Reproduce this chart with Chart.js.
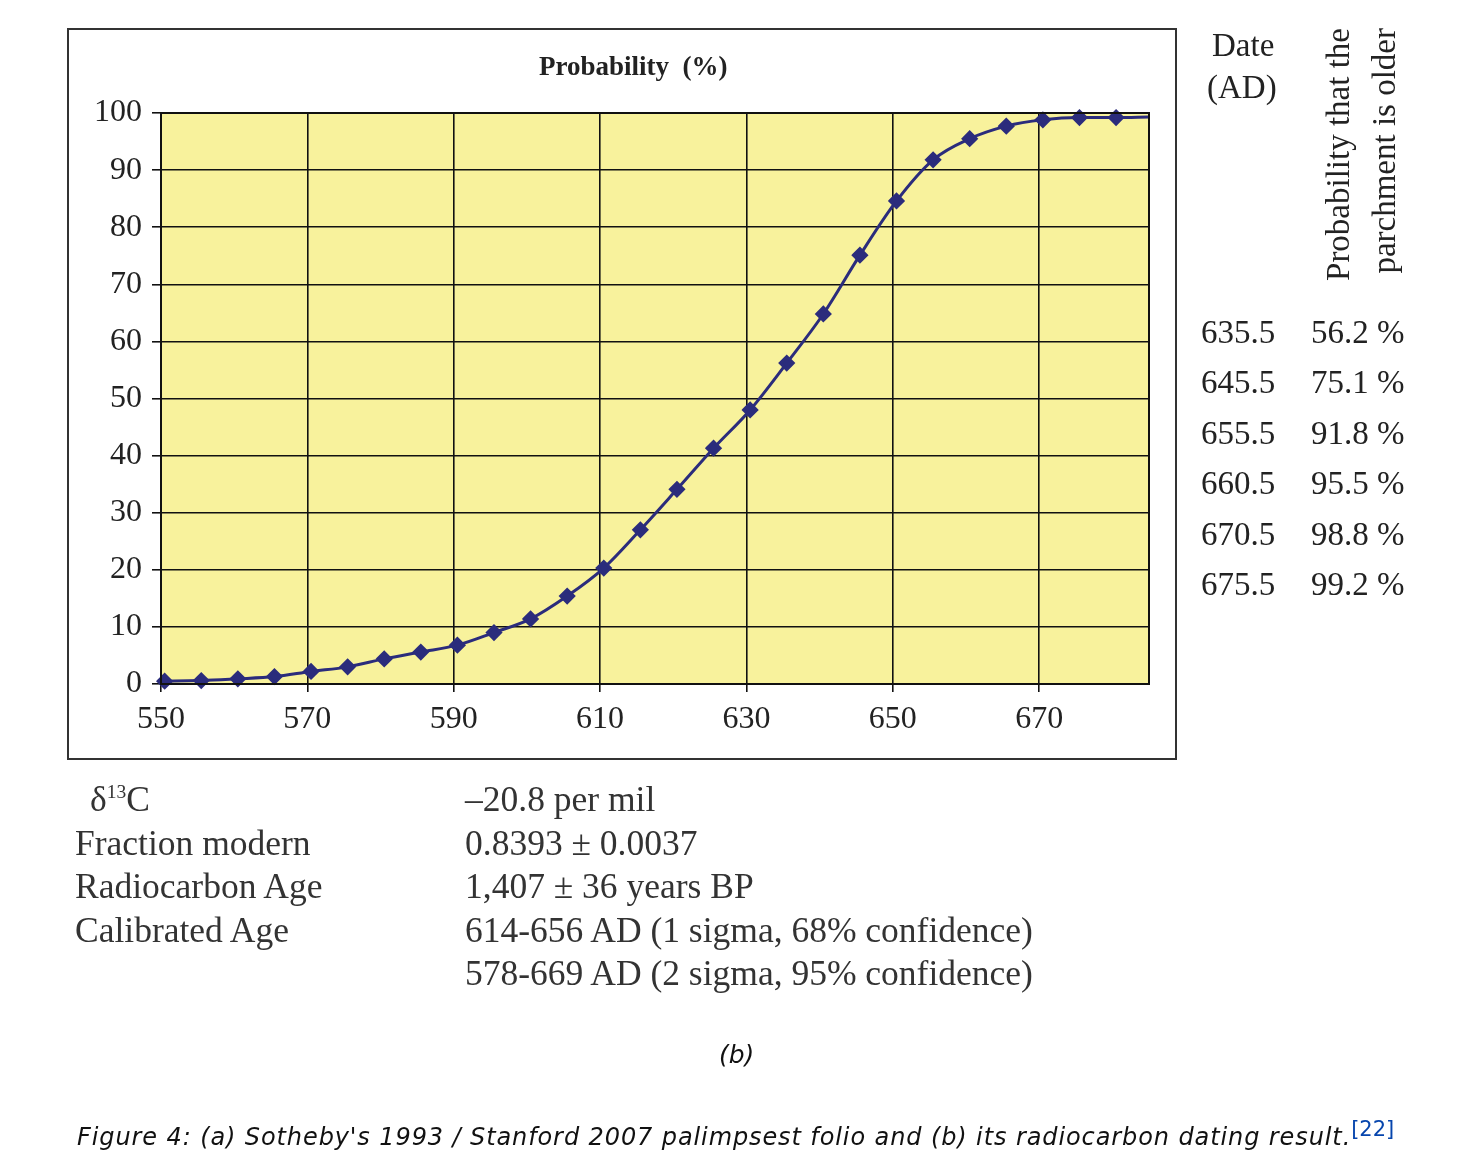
<!DOCTYPE html>
<html>
<head>
<meta charset="utf-8">
<script src="https://cdn.jsdelivr.net/npm/chart.js@4.4.1/dist/chart.umd.min.js"></script>
<style>
  body { margin: 0; background: #fff; width: 1479px; height: 1159px; position: relative; overflow: hidden; }
  .serif { font-family: "Liberation Serif", "DejaVu Serif", serif; color: #222; position: absolute; white-space: nowrap; line-height: 1; }
  .box { position: absolute; left: 67px; top: 28px; width: 1110px; height: 732px; border: 2px solid #333; box-sizing: border-box; }
  #chart { position: absolute; left: 0; top: 0; }
  .cap { font-family: "DejaVu Sans", Verdana, sans-serif; font-style: italic; position: absolute; color: #111; font-size: 24px; letter-spacing: 0.9px; white-space: nowrap; }
</style>
</head>
<body>
<div class="box"></div>
<canvas id="chart" width="1479" height="1159"></canvas>
<div class="serif" style="left:539px; top:53px; font-size:27px; font-weight:bold;">Probability&nbsp; (%)</div>

<div class="serif" style="left:1212px; top:29px; font-size:33px;">Date</div>
<div class="serif" style="left:1207px; top:71px; font-size:33px;">(AD)</div>
<div class="serif" style="left:1315px; top:288px; width:260px; font-size:33px; line-height:46px; text-align:right; transform:rotate(-90deg); transform-origin:0 0;">Probability that the<br>parchment is older</div>
<div id="table"></div>

<div id="info"></div>

<div class="cap" style="left:719px; top:1040px; font-size:25px; letter-spacing:0;">(b)</div>
<div class="cap" style="left:77px; top:1117px;">Figure 4: (a) Sotheby's 1993 / Stanford 2007 palimpsest folio and (b) its radiocarbon dating result.<sup style="color:#0645ad; font-style:normal; font-size:21px; letter-spacing:0;">[22]</sup></div>

<script>
// calibration curve, points every 5 years (plus the line ends at the frame)
const years = [550, 550.5, 555.5, 560.5, 565.5, 570.5, 575.5, 580.5, 585.5, 590.5, 595.5, 600.5, 605.5,
  610.5, 615.5, 620.5, 625.5, 630.5, 635.5, 640.5, 645.5, 650.5, 655.5, 660.5, 665.5, 670.5, 675.5, 680.5, 685];
const probability = [0.4, 0.5, 0.6, 0.9, 1.3, 2.2, 3.0, 4.4, 5.6, 6.8, 9.0, 11.4, 15.4,
  20.3, 27.0, 34.1, 41.3, 48.0, 56.2, 64.8, 75.1, 84.6, 91.8, 95.5, 97.7, 98.8, 99.2, 99.2, 99.3];
const xTicks = [550, 570, 590, 610, 630, 650, 670];
const yTicks = [0, 10, 20, 30, 40, 50, 60, 70, 80, 90, 100];

const tableDates = ["635.5", "645.5", "655.5", "660.5", "670.5", "675.5"];
const tablePercents = ["56.2 %", "75.1 %", "91.8 %", "95.5 %", "98.8 %", "99.2 %"];

const infoLabels = ["δ<sup style='font-size:0.55em'>13</sup>C", "Fraction modern", "Radiocarbon Age", "Calibrated Age", ""];
const infoValues = ["–20.8 per mil", "0.8393 ± 0.0037", "1,407 ± 36 years BP",
  "614-656 AD (1 sigma, 68% confidence)", "578-669 AD (2 sigma, 95% confidence)"];

const table = document.getElementById("table");
tableDates.forEach(function(d, i) {
  const top = 316 + i * 50.4;
  table.innerHTML += `<div class="serif" style="left:1201px; top:${top}px; font-size:33px;">${d}</div>` +
    `<div class="serif" style="left:1311px; top:${top}px; font-size:33px;">${tablePercents[i]}</div>`;
});

const info = document.getElementById("info");
infoLabels.forEach(function(l, i) {
  const top = 782 + i * 43.5;
  const left = i === 0 ? 90 : 75;
  info.innerHTML += `<div class="serif" style="left:${left}px; top:${top}px; font-size:35.5px; color:#333;">${l}</div>` +
    `<div class="serif" style="left:465px; top:${top}px; font-size:35.5px; color:#333;">${infoValues[i]}</div>`;
});

const plotBg = {
  id: "plotBg",
  beforeDraw(chart) {
    const a = chart.chartArea, ctx = chart.ctx;
    ctx.save();
    ctx.fillStyle = "#F8F29C";
    ctx.fillRect(a.left, a.top, a.right - a.left, a.bottom - a.top);
    ctx.restore();
  },
  afterDatasetsDraw(chart) {
    const a = chart.chartArea, ctx = chart.ctx;
    ctx.save();
    ctx.strokeStyle = "#111";
    ctx.lineWidth = 2;
    ctx.strokeRect(a.left, a.top, a.right - a.left, a.bottom - a.top);
    ctx.restore();
  }
};

const tickFont = { family: "'Liberation Serif', serif", size: 32 };

new Chart(document.getElementById("chart"), {
  type: "line",
  data: {
    datasets: [{
      data: years.map((x, i) => ({ x: x, y: probability[i] })),
      borderColor: "#2B2C7C",
      backgroundColor: "#2B2C7C",
      borderWidth: 3,
      pointStyle: "rectRot",
      pointRadius: years.map((x, i) => (i === 0 || i === years.length - 1) ? 0 : 6.5),
      cubicInterpolationMode: "monotone",
      clip: false
    }]
  },
  options: {
    responsive: false,
    animation: false,
    layout: { padding: { left: 0, top: 113, right: 330, bottom: 415 } },
    plugins: { legend: { display: false }, tooltip: { enabled: false } },
    scales: {
      x: {
        type: "linear",
        min: 550,
        max: 685,
        afterBuildTicks: s => { s.ticks = xTicks.map(v => ({ value: v })); },
        afterFit: s => { s.height = 60; },
        grid: { color: "#111", lineWidth: 1.6, tickLength: 8 },
        border: { display: false },
        ticks: { color: "#222", font: tickFont, padding: 8, maxRotation: 0 }
      },
      y: {
        min: 0,
        max: 100,
        afterBuildTicks: s => { s.ticks = yTicks.map(v => ({ value: v })); },
        afterFit: s => { s.width = 161; },
        grid: { color: "#111", lineWidth: 1.6, tickLength: 9 },
        border: { display: false },
        ticks: { color: "#222", font: tickFont, padding: 10 }
      }
    }
  },
  plugins: [plotBg]
});
</script>
</body>
</html>
